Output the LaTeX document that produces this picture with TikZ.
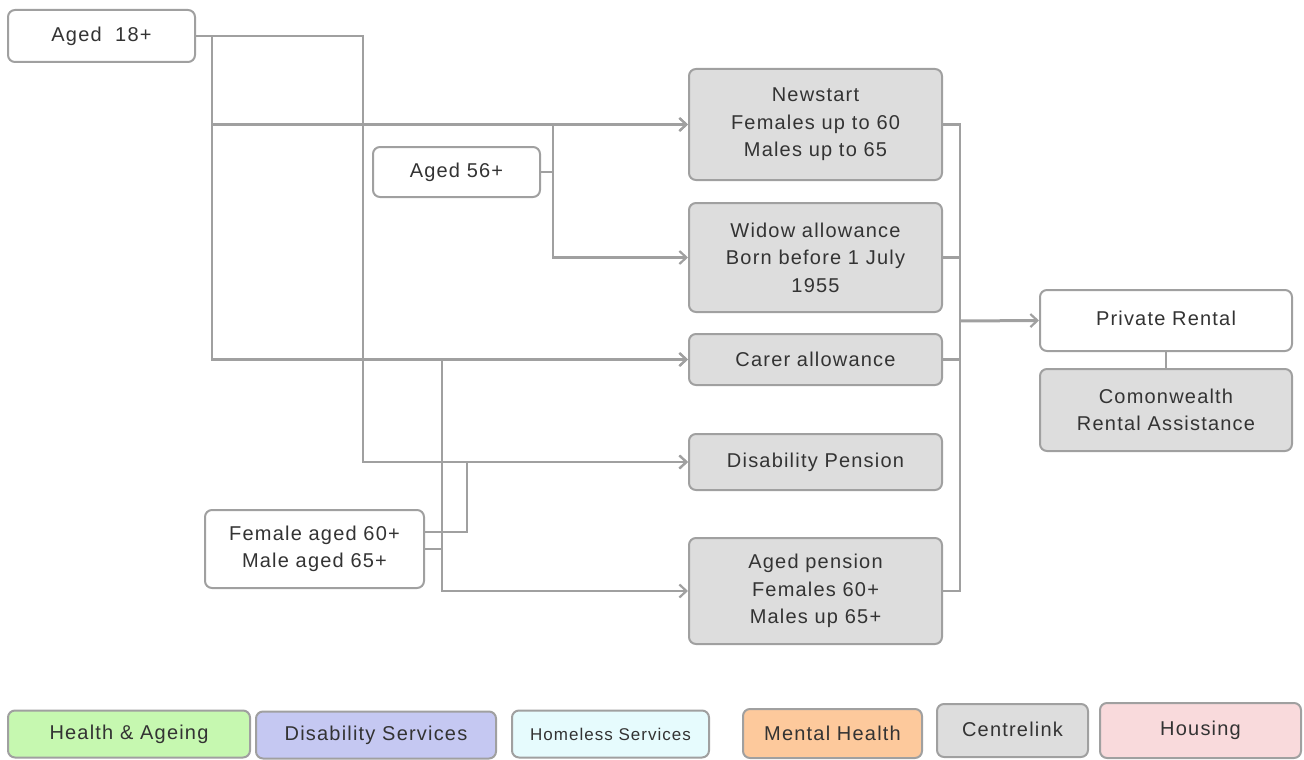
\documentclass[tikz,border=0pt]{standalone}
\usepackage{fontspec}
\setmainfont[LetterSpace=6]{Liberation Sans}
\usepackage{tikz}
\usetikzlibrary{arrows.meta}
\definecolor{linegray}{HTML}{A0A0A0}
\definecolor{boxgray}{HTML}{DDDDDD}
\definecolor{hagreen}{HTML}{C6F8B0}
\definecolor{dsblue}{HTML}{C5C8F2}
\definecolor{hscyan}{HTML}{E6FBFD}
\definecolor{mhorange}{HTML}{FDC99C}
\definecolor{hopink}{HTML}{F9DADC}
\begin{document}
\begin{tikzpicture}[x=1pt,y=-1pt,
	box/.style={draw=linegray, line width=2pt, rounded corners=7pt, align=center,
		text=black!80, font=\fontsize{20}{27.5}\selectfont, inner sep=0pt},
	who/.style={box, fill=white},
	pay/.style={box, fill=boxgray, minimum width=253pt},
	key/.style={box, minimum height=47pt},
	link/.style={draw=linegray, line width=2.2pt},
	arr/.style={link, -{Straight Barb[length=7pt,width=13pt,line width=2.2pt]}}]
\useasboundingbox (0,0) rectangle (1304,760);
\path (101.5,36) node[who, minimum width=187pt, minimum height=52pt] (a18) {Aged\ \ 18+}
		(456.5,172) node[who, minimum width=167pt, minimum height=50pt] (a56) {Aged 56+}
		(314.5,549) node[who, minimum width=219pt, minimum height=78pt] (fem) {Female aged 60+\\Male aged 65+}
		(815.5,124.5) node[pay, minimum height=111pt] (news) {Newstart\\Females up to 60\\Males up to 65}
		(815.5,257.5) node[pay, minimum height=109pt] (widow) {Widow allowance\\Born before 1 July\\1955}
		(815.5,359.5) node[pay, minimum height=51pt] (carer) {Carer allowance}
		(815.5,462) node[pay, minimum height=56pt] (dis) {Disability Pension}
		(815.5,591) node[pay, minimum height=106pt] (aged) {Aged pension\\Females 60+\\Males up 65+}
		(1166,320.5) node[who, minimum width=252pt, minimum height=61pt] (rent) {\raisebox{4pt}{Private Rental}}
		(1166,410) node[pay, minimum width=252pt, minimum height=82pt] (crent) {Comonwealth\\Rental Assistance}
		;
% legend
\path (129,734) node[key, fill=hagreen, minimum width=242pt] (kha) {Health \& Ageing}
		(376,735) node[key, fill=dsblue, minimum width=240pt] (kds) {Disability Services}
		(610.5,734) node[key, fill=hscyan, minimum width=197pt, font=\fontsize{17}{20}\selectfont] (khs) {Homeless Services}
		(832.5,733.5) node[key, fill=mhorange, minimum width=179pt, minimum height=49pt] (kmh) {Mental Health}
		(1012.5,730.5) node[key, fill=boxgray, minimum width=151pt, minimum height=53pt] (kcl) {\raisebox{3pt}{Centrelink}}
		(1200.5,730.5) node[key, fill=hopink, minimum width=201pt, minimum height=55pt] (kho) {\raisebox{3pt}{Housing}}
		;
% junctions
\coordinate (j18) at (212,36);
\coordinate (j18b) at (363,36);
\coordinate (j56) at (553,172);
\coordinate (jfa) at (467,532);
\coordinate (jfb) at (442,549);
\coordinate (jr) at (960,321);
% left side
\draw[link] (a18.east) -- (j18);
\draw[arr] (j18) -- (j18b) |- (dis.west);
\draw[arr] (j18) |- (news.west);
\draw[arr] (j18) |- (carer.west);
\draw[link] (a56.east) -- (j56);
\draw[arr] (j56) |- (news.west);
\draw[arr] (j56) |- (widow.west);
\draw[arr] (fem.east |- jfa) -- (jfa) |- (dis.west);
\draw[link] (fem.east) -- (jfb);
\draw[arr] (jfb) |- (carer.west);
\draw[arr] (jfb) |- (aged.west);
% right side
\draw[link] (news.east) -| (jr);
\draw[link] (widow.east) -| (jr);
\draw[link] (carer.east) -| (jr);
\draw[link] (aged.east) -| (jr);
\draw[arr, line width=3pt] (jr) -- (rent.west);
\draw[link] (rent) -- (crent);
\end{tikzpicture}
\end{document}
